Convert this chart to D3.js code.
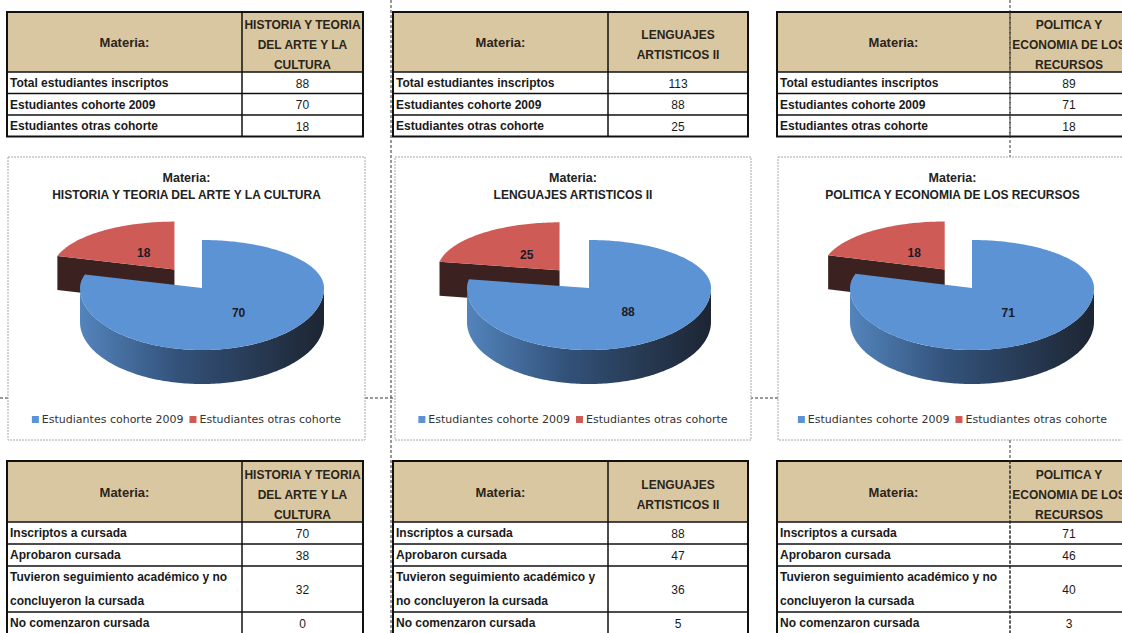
<!DOCTYPE html>
<html>
<head>
<meta charset="utf-8">
<script src="https://cdn.jsdelivr.net/npm/d3@7"></script>
<style>
body { margin: 0; background: #fff; }
svg { display: block; font-family: "Liberation Sans", Arial, sans-serif; }
</style>
</head>
<body>
<div id="vis"></div>
<script>
// ---- data ----
var materias = ["HISTORIA Y TEORIA DEL ARTE Y LA CULTURA", "LENGUAJES ARTISTICOS II", "POLITICA Y ECONOMIA DE LOS RECURSOS"];
var headerLines = [["HISTORIA Y TEORIA", "DEL ARTE Y LA", "CULTURA"], ["LENGUAJES", "ARTISTICOS II"], ["POLITICA Y", "ECONOMIA DE LOS", "RECURSOS"]];

var inscRows = ["Total estudiantes inscriptos", "Estudiantes cohorte 2009", "Estudiantes otras cohorte"];
var totalInscriptos = [88, 113, 89];
var cohorte2009 = [70, 88, 71];
var otrasCohorte = [18, 25, 18];

var cursadaRows = ["Inscriptos a cursada", "Aprobaron cursada", "Tuvieron seguimiento académico y no concluyeron la cursada", "No comenzaron cursada"];
var inscriptosCursada = [70, 88, 71];
var aprobaron = [38, 47, 46];
var seguimiento = [32, 36, 40];
var noComenzaron = [0, 5, 3];

var series = ["Estudiantes cohorte 2009", "Estudiantes otras cohorte"];
var colors = ["#5b93d4", "#cf5b57"];

// ---- layout ----
var W = 1122, H = 633;
var colLeft = [7, 393, 777], colSplit = [242, 608, 1010], colRight = [363, 748, 1128];
var boxLeft = [8, 395, 778], boxRight = [365, 751, 1127];
var boxTop = 157, boxBottom = 440;

var svg = d3.select("#vis").append("svg")
  .attr("width", W)
  .attr("height", H);

var defs = svg.append("defs");
var wallGrad = defs.append("linearGradient").attr("id", "wallBlue")
  .attr("x1", 0).attr("x2", 1).attr("y1", 0).attr("y2", 0);
wallGrad.append("stop").attr("offset", 0).attr("stop-color", "#5384bc");
wallGrad.append("stop").attr("offset", 0.4).attr("stop-color", "#33527a");
wallGrad.append("stop").attr("offset", 1).attr("stop-color", "#1d2532");

var measure = svg.append("text").attr("font-size", 12).attr("font-weight", "bold").attr("visibility", "hidden");
function wrap(str, maxW) {
  var words = str.split(" "), lines = [], cur = "";
  words.forEach(function(w) {
    var t = cur ? cur + " " + w : w;
    measure.text(t);
    if (cur && measure.node().getComputedTextLength() > maxW) { lines.push(cur); cur = w; }
    else cur = t;
  });
  lines.push(cur);
  return lines;
}

function drawTable(i, y0, headH, rowH, labels, values) {
  var g = svg.append("g");
  var x0 = colLeft[i], xs = colSplit[i], x1 = colRight[i];
  var rows = labels.map(function(l, k) {
    return { lines: wrap(l, xs - x0 - 6), value: values[k][i] };
  });
  var y = y0 + headH;
  rows.forEach(function(r) { r.y = y; r.h = rowH * r.lines.length + (r.lines.length - 1) * 2; y += r.h; });
  var yEnd = y;

  g.append("rect").attr("x", x0).attr("y", y0).attr("width", x1 - x0).attr("height", headH)
    .attr("fill", "#d9c7a2");
  g.append("rect").attr("x", x0).attr("y", y0 + headH).attr("width", x1 - x0).attr("height", yEnd - y0 - headH)
    .attr("fill", "#fff");

  g.append("text").attr("x", (x0 + xs) / 2).attr("y", y0 + headH / 2 + 5)
    .attr("text-anchor", "middle").attr("font-size", 13).attr("font-weight", "bold").attr("fill", "#2b2419")
    .text("Materia:");
  var hl = headerLines[i];
  g.selectAll(".hl").data(hl).enter().append("text")
    .attr("x", (xs + x1) / 2)
    .attr("y", function(d, k) { return y0 + headH / 2 + 7 + (k - (hl.length - 1) / 2) * 20; })
    .attr("text-anchor", "middle").attr("font-size", 12).attr("font-weight", "bold").attr("fill", "#2b2419")
    .text(function(d) { return d; });

  rows.forEach(function(r) {
    r.lines.forEach(function(t, k) {
      g.append("text").attr("x", x0 + 3).attr("y", r.y + 15 + k * 24)
        .attr("font-size", 12).attr("font-weight", "bold").attr("fill", "#1a1a1a").text(t);
    });
    g.append("text").attr("x", (xs + x1) / 2).attr("y", r.y + r.h / 2 + 5)
      .attr("text-anchor", "middle").attr("font-size", 12).attr("fill", "#1a1a1a").text(r.value);
  });

  var lines = [y0 + headH].concat(rows.slice(1).map(function(r) { return r.y; }));
  g.selectAll(".hline").data(lines).enter().append("line")
    .attr("x1", x0).attr("x2", x1).attr("y1", function(d) { return d; }).attr("y2", function(d) { return d; })
    .attr("stroke", "#111").attr("stroke-width", 1.5);
  g.append("line").attr("x1", xs).attr("x2", xs).attr("y1", y0).attr("y2", yEnd)
    .attr("stroke", "#111").attr("stroke-width", i === 2 ? 1 : 1.5)
    .attr("stroke-dasharray", i === 2 ? "3,2" : null);
  g.append("rect").attr("x", x0).attr("y", y0).attr("width", x1 - x0).attr("height", yEnd - y0)
    .attr("fill", "none").attr("stroke", "#111").attr("stroke-width", 2);
}

[0, 1, 2].forEach(function(i) {
  drawTable(i, 12, 60, 21.5, inscRows, [totalInscriptos, cohorte2009, otrasCohorte]);
  drawTable(i, 461, 61, 22, cursadaRows, [inscriptosCursada, aprobaron, seguimiento, noComenzaron]);
});

// page grid lines (dashed)
svg.append("line").attr("x1", 0).attr("x2", W).attr("y1", 398).attr("y2", 398)
  .attr("stroke", "#333").attr("stroke-dasharray", "3,2");
[391, 1010].forEach(function(x) {
  svg.append("line").attr("x1", x).attr("x2", x).attr("y1", 0).attr("y2", H)
    .attr("stroke", "#333").attr("stroke-dasharray", "3,2");
});

// ---- 3D pies (simple perspective: back half flatter than front half) ----
var rx = 122, ryBack = 48, ryFront = 62, depth = 34, explode = 46;
var pie = d3.pie().sort(null).value(function(d) { return d.value; });
var line = d3.line();

function P(a, cx, cy, dy) {
  var c = Math.cos(a);
  return [cx + rx * Math.sin(a), cy - (c > 0 ? ryBack : ryFront) * c + (dy || 0)];
}
function angles(a0, a1) {
  var n = Math.max(2, Math.ceil((a1 - a0) / 0.02));
  return d3.range(n + 1).map(function(k) { return a0 + (a1 - a0) * k / n; });
}
function topPath(a, cx, cy) {
  var pts = [[cx, cy]].concat(angles(a.startAngle, a.endAngle).map(function(t) { return P(t, cx, cy); }));
  return line(pts) + "Z";
}
function wallPath(a, cx, cy) {
  var s = Math.max(a.startAngle, Math.PI / 2), e = Math.min(a.endAngle, 3 * Math.PI / 2);
  if (e <= s) return null;
  var ang = angles(s, e);
  var pts = ang.map(function(t) { return P(t, cx, cy); })
    .concat(ang.slice().reverse().map(function(t) { return P(t, cx, cy, depth); }));
  return line(pts) + "Z";
}
function sidePath(ang, cx, cy) {
  return line([[cx, cy], P(ang, cx, cy), P(ang, cx, cy, depth), [cx, cy + depth]]) + "Z";
}

[0, 1, 2].forEach(function(i) {
  var bx = boxLeft[i], bw = boxRight[i] - boxLeft[i];
  var g = svg.append("g");
  g.append("rect").attr("x", bx).attr("y", boxTop).attr("width", bw).attr("height", boxBottom - boxTop)
    .attr("fill", "#fff").attr("stroke", "#a8a8a8").attr("stroke-dasharray", "2,1");

  g.append("text").attr("x", bx + bw / 2).attr("y", 182).attr("text-anchor", "middle")
    .attr("font-size", 12.5).attr("font-weight", "bold").attr("fill", "#222").text("Materia:");
  g.append("text").attr("x", bx + bw / 2).attr("y", 199).attr("text-anchor", "middle")
    .attr("font-size", 12).attr("font-weight", "bold").attr("fill", "#222").text(materias[i]);

  var data = series.map(function(s, k) { return { key: s, value: [cohorte2009, otrasCohorte][k][i], color: colors[k] }; });
  var arcs = pie(data);
  var cx = bx + 194, cy = 288;
  arcs.forEach(function(a) {
    a.mid = (a.startAngle + a.endAngle) / 2;
    var off = a.data.key === series[1] ? explode : 0;
    a.cx = cx + Math.sin(a.mid) * off;
    a.cy = cy - Math.cos(a.mid) * off * 0.5;
  });
  arcs.slice().sort(function(a, b) { return Math.cos(b.mid) - Math.cos(a.mid); }).forEach(function(a) {
    var sg = g.append("g");
    var side = a.index === 0 ? "url(#wallBlue)" : "#3b2221";
    var w = wallPath(a, a.cx, a.cy);
    if (w) sg.append("path").attr("d", w).attr("fill", side);
    if (Math.sin(a.startAngle) < -1e-6) sg.append("path").attr("d", sidePath(a.startAngle, a.cx, a.cy)).attr("fill", side);
    if (Math.sin(a.endAngle) > 1e-6) sg.append("path").attr("d", sidePath(a.endAngle, a.cx, a.cy)).attr("fill", side);
    sg.append("path").attr("d", topPath(a, a.cx, a.cy)).attr("fill", a.data.color);
    var f = a.index === 0 ? 0.5 : 0.42;
    var lp = P(a.mid, 0, 0);
    sg.append("text")
      .attr("x", a.cx + lp[0] * f)
      .attr("y", a.cy + lp[1] * f + 4)
      .attr("text-anchor", "middle").attr("font-size", 12).attr("font-weight", "bold").attr("fill", "#1b1b26")
      .text(a.value);
  });

  // legend
  var lg = g.append("g").attr("font-family", "'DejaVu Sans', sans-serif").attr("font-size", 11);
  var xPos = 0;
  series.forEach(function(s, k) {
    lg.append("rect").attr("x", xPos).attr("y", -7).attr("width", 7).attr("height", 7).attr("fill", colors[k]);
    var t = lg.append("text").attr("x", xPos + 10).attr("y", 0).attr("fill", "#333").text(s);
    xPos += 10 + t.node().getComputedTextLength() + 6;
  });
  lg.attr("transform", "translate(" + (bx + bw / 2 - (xPos - 6) / 2) + ",423)");
});
</script>
</body>
</html>
